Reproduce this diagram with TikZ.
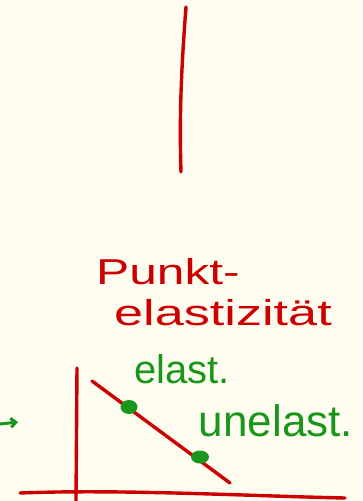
\documentclass[tikz,border=0pt]{standalone}
\usepackage{fontspec}
\setmainfont{Liberation Sans}
\usetikzlibrary{arrows.meta,shapes.geometric}
\definecolor{paper}{HTML}{FFFDF0}
\definecolor{ink}{HTML}{CC0000}
\definecolor{leaf}{HTML}{1A961A}
\tikzset{
  redline/.style={draw=ink,line width=3.4pt,line cap=round,line join=round},
  greenline/.style={draw=leaf,line width=3pt,line cap=round,line join=round},
  redtext/.style={text=ink,inner sep=0pt,anchor=center},
  greentext/.style={text=leaf,inner sep=0pt,anchor=center},
  dot/.style={ellipse,fill=leaf,minimum width=17pt,minimum height=14pt,inner sep=0pt}
}
\begin{document}
\begin{tikzpicture}[x=1pt,y=-1pt]
\fill[paper] (0,0) rectangle (362,501);
\useasboundingbox (0,0) rectangle (362,501);
% top vertical stroke
\coordinate (t1) at (186,7);
\coordinate (t2) at (181,172);
\draw[redline] (t1) .. controls (182,60) and (179,110) .. (t2);
% title
\node[redtext,xscale=1.38] (title1) at (168,272) {\fontsize{36}{40}\selectfont Punkt-};
\node[redtext,xscale=1.45] (title2) at (223,313) {\fontsize{36}{40}\selectfont elastizität};
% axes
\coordinate (yTop) at (77,368);
\coordinate (yBot) at (76,501);
\coordinate (xL) at (20,493);
\coordinate (xR) at (345,498);
\draw[redline] (yTop) -- (yBot);
\draw[redline] (xL) .. controls (120,489) and (250,496) .. (xR);
% demand line
\coordinate (dA) at (92,381);
\coordinate (dB) at (230,483);
\draw[redline] (dA) -- (dB);
\node[dot] (p1) at (129,407) {};
\node[dot,minimum width=18pt,minimum height=13pt] (p2) at (200,457) {};
% labels
\node[greentext] (lab1) at (182,369) {\fontsize{40}{44}\selectfont elast.};
\node[greentext] (lab2) at (276,421) {\fontsize{44}{48}\selectfont unelast.};
% left arrow
\coordinate (a1) at (0,424);
\coordinate (a2) at (18,422);
\draw[greenline,-{Straight Barb[length=5pt,width=9pt]}] (a1) -- (a2);
\end{tikzpicture}
\end{document}
